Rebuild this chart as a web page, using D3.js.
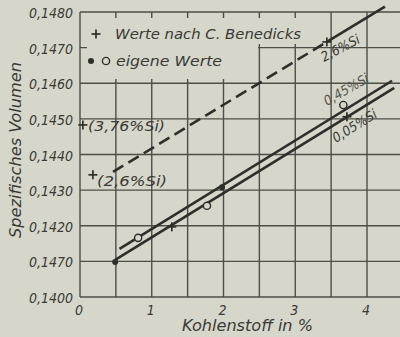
<!DOCTYPE html>
<html>
<head>
<meta charset="utf-8">
<script src="https://cdn.jsdelivr.net/npm/d3@7"></script>
<style>
  html, body { margin: 0; padding: 0; background: #d6d6cb; }
  svg { display: block; }
  text {
    font-family: "DejaVu Sans Condensed", "DejaVu Sans", sans-serif;
    font-stretch: condensed;
    font-style: italic;
    fill: #3a3a36;
  }
</style>
</head>
<body>
<svg id="chart" width="400" height="337"></svg>
<script>
// Axis ticks and their printed labels
const xTicks = [0, 1, 2, 3, 4];
const xTickLabels = ["0", "1", "2", "3", "4"];
const yTicks = [0.1400, 0.1410, 0.1420, 0.1430, 0.1440, 0.1450, 0.1460, 0.1470, 0.1480];
const yTickLabels = ["0,1400", "0,1470", "0,1420", "0,1430", "0,1440", "0,1450", "0,1460", "0,1470", "0,1480"];

// Fitted lines: [carbon %, specific volume]
const benedicksDashed = [[0.46, 0.14351], [3.44, 0.14716]];   // 2,6 % Si (extrapolated part)
const benedicksSolid  = [[3.44, 0.14716], [4.25, 0.14815]];
const line045 = [[0.55, 0.14135], [4.35, 0.14607]];            // 0,45 % Si
const line005 = [[0.49, 0.14104], [4.38, 0.14587]];            // 0,05 % Si

// Measured points
const benedicksPoints = [[0.04, 0.14483], [0.18, 0.14343], [1.28, 0.14197], [3.72, 0.14506], [3.44, 0.14716]];
const ownOpen   = [[0.81, 0.14166], [1.77, 0.14256], [3.67, 0.14539]];
const ownFilled = [[0.49, 0.14098], [1.98, 0.14308]];

const paper = "#d6d6cb";
const ink = "#2e2e2b";
const gridInk = "#4e4e49";

const svg = d3.select("#chart");

const x = d3.scaleLinear().domain([0, 4]).range([80, 367]);
const y = d3.scaleLinear().domain([0.1400, 0.1480]).range([297, 12]);
const rightEdge = 400;

// Grid: every 0,5 % carbon and every 0,0010 volume
const gx = d3.range(0, 4.51, 0.5);
svg.append("g").selectAll("line").data(gx).join("line")
  .attr("x1", d => x(d)).attr("x2", d => x(d))
  .attr("y1", y(0.1480)).attr("y2", y(0.1400))
  .attr("stroke", gridInk).attr("stroke-width", 1.4);

svg.append("g").selectAll("line").data(yTicks).join("line")
  .attr("x1", x(0)).attr("x2", rightEdge)
  .attr("y1", d => y(d)).attr("y2", d => y(d))
  .attr("stroke", gridInk).attr("stroke-width", 1.4);

// Paper patches behind the legend
svg.append("rect").attr("x", 87).attr("y", 18).attr("width", 217).attr("height", 26).attr("fill", paper);
svg.append("rect").attr("x", 87).attr("y", 44).attr("width", 171).attr("height", 35).attr("fill", paper);

// Tick labels
svg.append("g").selectAll("text").data(yTicks).join("text")
  .attr("x", 73).attr("y", d => y(d) + 6)
  .attr("text-anchor", "end").attr("font-size", 14)
  .text((d, i) => yTickLabels[i]);

svg.append("g").selectAll("text").data(xTicks).join("text")
  .attr("x", d => x(d) - 1).attr("y", 315)
  .attr("text-anchor", "middle").attr("font-size", 14)
  .text((d, i) => xTickLabels[i]);

// Axis titles
svg.append("text")
  .attr("x", 182).attr("y", 331)
  .attr("font-size", 15)
  .attr("textLength", 131).attr("lengthAdjust", "spacingAndGlyphs")
  .text("Kohlenstoff in %");

svg.append("text")
  .attr("transform", "translate(21,238) rotate(-90)")
  .attr("font-size", 15)
  .attr("textLength", 176).attr("lengthAdjust", "spacingAndGlyphs")
  .text("Spezifisches Volumen");

// Lines
const line = d3.line().x(d => x(d[0])).y(d => y(d[1]));
svg.append("path").datum(benedicksDashed).attr("d", line)
  .attr("fill", "none").attr("stroke", ink).attr("stroke-width", 2.6)
  .attr("stroke-dasharray", "12,6");
svg.append("path").datum(benedicksSolid).attr("d", line)
  .attr("fill", "none").attr("stroke", ink).attr("stroke-width", 2.6);
[line045, line005].forEach(l => {
  svg.append("path").datum(l).attr("d", line)
    .attr("fill", "none").attr("stroke", ink).attr("stroke-width", 2.6);
});

// Markers
function plus(g, cx, cy, s) {
  g.append("line").attr("x1", cx - s).attr("x2", cx + s).attr("y1", cy).attr("y2", cy)
    .attr("stroke", ink).attr("stroke-width", 1.7);
  g.append("line").attr("x1", cx).attr("x2", cx).attr("y1", cy - s).attr("y2", cy + s)
    .attr("stroke", ink).attr("stroke-width", 1.7);
}
const marks = svg.append("g");
benedicksPoints.forEach(d => plus(marks, x(d[0]), y(d[1]), 4.5));
marks.selectAll("circle.open").data(ownOpen).join("circle").attr("class", "open")
  .attr("cx", d => x(d[0])).attr("cy", d => y(d[1])).attr("r", 3.6)
  .attr("fill", paper).attr("stroke", ink).attr("stroke-width", 1.4);
marks.selectAll("circle.filled").data(ownFilled).join("circle").attr("class", "filled")
  .attr("cx", d => x(d[0])).attr("cy", d => y(d[1])).attr("r", 3)
  .attr("fill", ink);

// Point annotations
svg.append("text").attr("x", 88).attr("y", 131).attr("font-size", 13.5)
  .attr("textLength", 77).attr("lengthAdjust", "spacingAndGlyphs").text("(3,76%Si)");
svg.append("text").attr("x", 97).attr("y", 186).attr("font-size", 13.5)
  .attr("textLength", 70).attr("lengthAdjust", "spacingAndGlyphs").text("(2,6%Si)");

// Line labels
svg.append("text").attr("transform", "translate(324,62) rotate(-28)")
  .attr("font-size", 13.5).text("2,6%Si");
svg.append("text").attr("transform", "translate(327,106) rotate(-30)")
  .attr("font-size", 13.5).style("fill", "#55554f").text("0,45%Si");
svg.append("text").attr("transform", "translate(336,143) rotate(-32)")
  .attr("font-size", 13.5).text("0,05%Si");

// Legend
const lg = svg.append("g");
plus(lg, 96, 34, 4.5);
lg.append("text").attr("x", 115).attr("y", 39).attr("font-size", 14)
  .attr("textLength", 186).attr("lengthAdjust", "spacingAndGlyphs")
  .text("Werte nach C. Benedicks");
lg.append("circle").attr("cx", 91).attr("cy", 61).attr("r", 3).attr("fill", ink);
lg.append("circle").attr("cx", 106).attr("cy", 61).attr("r", 3.6)
  .attr("fill", paper).attr("stroke", ink).attr("stroke-width", 1.4);
lg.append("text").attr("x", 116).attr("y", 66).attr("font-size", 14)
  .attr("textLength", 106).attr("lengthAdjust", "spacingAndGlyphs")
  .text("eigene Werte");
</script>
</body>
</html>
